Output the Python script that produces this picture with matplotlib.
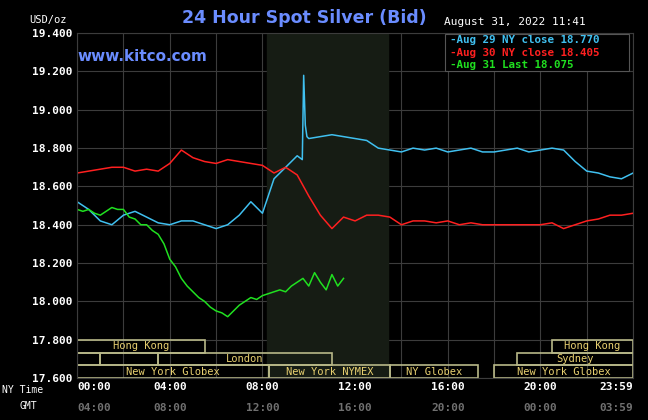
import numpy as np
import matplotlib
matplotlib.use('Agg')
import matplotlib.pyplot as plt
from matplotlib.patches import Rectangle

# hours (NY time), half-hour steps
hours = np.arange(0, 24.01, 0.5)
aug29 = [18.52, 18.48, 18.42, 18.40, 18.45, 18.47, 18.44, 18.41, 18.40, 18.42,
         18.42, 18.40, 18.38, 18.40, 18.45, 18.52, 18.46, 18.64, 18.70, 18.76,
         18.85, 18.86, 18.87, 18.86, 18.85, 18.84, 18.80, 18.79, 18.78, 18.80,
         18.79, 18.80, 18.78, 18.79, 18.80, 18.78, 18.78, 18.79, 18.80, 18.78,
         18.79, 18.80, 18.79, 18.73, 18.68, 18.67, 18.65, 18.64, 18.67]
# the spike just before 10:00
spike_h = [9.72, 9.78, 9.85, 9.92]
spike_v = [18.74, 19.18, 18.92, 18.86]
aug30 = [18.67, 18.68, 18.69, 18.70, 18.70, 18.68, 18.69, 18.68, 18.72, 18.79,
         18.75, 18.73, 18.72, 18.74, 18.73, 18.72, 18.71, 18.67, 18.70, 18.66,
         18.55, 18.45, 18.38, 18.44, 18.42, 18.45, 18.45, 18.44, 18.40, 18.42,
         18.42, 18.41, 18.42, 18.40, 18.41, 18.40, 18.40, 18.40, 18.40, 18.40,
         18.40, 18.41, 18.38, 18.40, 18.42, 18.43, 18.45, 18.45, 18.46]
aug31_h = np.arange(0, 11.75, 0.25)
aug31 = [18.48, 18.47, 18.48, 18.46, 18.45, 18.47, 18.49, 18.48, 18.48, 18.44,
         18.43, 18.40, 18.40, 18.37, 18.35, 18.30, 18.22, 18.18, 18.12, 18.08,
         18.05, 18.02, 18.00, 17.97, 17.95, 17.94, 17.92, 17.95, 17.98, 18.00,
         18.02, 18.01, 18.03, 18.04, 18.05, 18.06, 18.05, 18.08, 18.10, 18.12,
         18.08, 18.15, 18.10, 18.06, 18.14, 18.08, 18.12]
yticks = [17.6, 17.8, 18.0, 18.2, 18.4, 18.6, 18.8, 19.0, 19.2, 19.4]
xtick_h = [0, 4, 8, 12, 16, 20, 24]
ny_labels = ['00:00', '04:00', '08:00', '12:00', '16:00', '20:00', '23:59']
gmt_labels = ['04:00', '08:00', '12:00', '16:00', '20:00', '00:00', '03:59']
# market sessions: (start, end, row, label)
sessions = [(0, 5.5, 2, 'Hong Kong'), (20.5, 24, 2, 'Hong Kong'),
            (0, 1, 1, ''), (1, 3.5, 1, ''), (3.5, 11, 1, 'London'), (19, 24, 1, 'Sydney'),
            (0, 8.3, 0, 'New York Globex'), (8.3, 13.5, 0, 'New York NYMEX'),
            (13.5, 17.3, 0, 'NY Globex'), (18, 24, 0, 'New York Globex')]

h29 = np.concatenate([hours, spike_h])
v29 = np.concatenate([aug29, spike_v])
order = np.argsort(h29)

mono = 'DejaVu Sans Mono'
fig = plt.figure(figsize=(6.48, 4.2), dpi=100, facecolor='black')
ax = fig.add_axes([0.119, 0.1, 0.858, 0.821], facecolor='black')
ax.set_xlim(0, 24)
ax.set_ylim(17.6, 19.4)
for y in np.arange(17.6, 19.41, 0.2):
    ax.axhline(y, color='#3c3c3c', lw=0.8, zorder=0)
for x in range(0, 25, 2):
    ax.axvline(x, color='#3c3c3c', lw=0.8, zorder=0)
ax.axvspan(8.2, 13.4, color='#161c14', zorder=0)

row_h = 0.066
for s, e, r, lab in sessions:
    y0 = 17.6 + r * row_h
    ax.add_patch(Rectangle((s, y0), e - s, row_h, fill=False, ec='#b8b888', lw=1.2, zorder=2))
    if lab:
        ax.text((s + e) / 2, y0 + row_h / 2, lab, color='#e8d070', fontsize=7.5,
                family=mono, ha='center', va='center', zorder=3)

ax.plot(h29[order], v29[order], color='#40c0f0', lw=1.1)
ax.plot(hours, aug30, color='#ff2020', lw=1.1)
ax.plot(aug31_h, aug31, color='#20e020', lw=1.1)

ax.set_yticks(yticks)
ax.set_yticklabels([f'{v:,.3f}' for v in yticks], color='white', family=mono,
                   fontsize=8, fontweight='bold')
ax.set_xticks(xtick_h)
ax.set_xticklabels(ny_labels, color='white', family=mono, fontsize=8, fontweight='bold')
for lab, ha in zip(ax.get_xticklabels(), ['left'] + ['center'] * 5 + ['right']):
    lab.set_ha(ha)
ax.tick_params(length=0, pad=3)
for i, lab in enumerate(gmt_labels):
    ha = 'left' if i == 0 else ('right' if i == len(gmt_labels) - 1 else 'center')
    ax.text(xtick_h[i], 17.6 - 0.155, lab, color='#707070', family=mono, fontsize=8,
            fontweight='bold', ha=ha, va='center')
for sp in ax.spines.values():
    sp.set_color('#3c3c3c')

fig.text(0.003, 0.065, 'NY Time', color='white', family=mono, fontsize=7)
fig.text(0.03, 0.027, 'GMT', color='white', family=mono, fontsize=7)
fig.text(0.045, 0.945, 'USD/oz', color='white', family=mono, fontsize=7.5)
fig.text(0.47, 0.945, '24 Hour Spot Silver (Bid)', color='#6a8cff', fontsize=12.5,
         fontweight='bold', ha='center')
fig.text(0.12, 0.855, 'www.kitco.com', color='#6a8cff', fontsize=11, fontweight='bold')
fig.text(0.685, 0.94, 'August 31, 2022 11:41', color='white', family=mono, fontsize=8)
leg = [('-Aug 29 NY close 18.770', '#40c0f0'), ('-Aug 30 NY close 18.405', '#ff2020'),
       ('-Aug 31 Last 18.075', '#20e020')]
for i, (t, c) in enumerate(leg):
    fig.text(0.695, 0.897 - i * 0.03, t, color=c, family=mono, fontsize=7.8, fontweight='bold')
fig.patches.append(Rectangle((0.686, 0.83), 0.285, 0.09, transform=fig.transFigure,
                             fill=True, fc='black', ec='#555555', lw=0.8, zorder=1))

fig.savefig('out.png', dpi=100, facecolor='black')
